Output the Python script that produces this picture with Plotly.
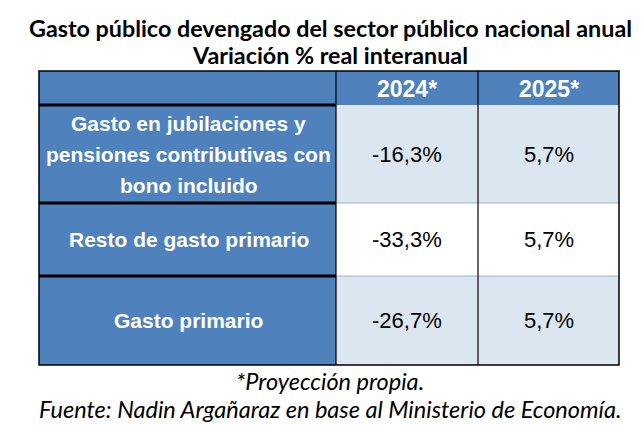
import plotly.graph_objects as go

# datos
titulo = ["Gasto público devengado del sector público nacional anual",
          "Variación % real interanual"]
anios = ["2024*", "2025*"]
rubros = [["Gasto en jubilaciones y", "pensiones contributivas con", "bono incluido"],
          ["Resto de gasto primario"],
          ["Gasto primario"]]
var_2024 = [-16.3, -33.3, -26.7]
var_2025 = [5.7, 5.7, 5.7]
notas = ["*Proyección propia.",
         "Fuente: Nadin Argañaraz en base al Ministerio de Economía."]

# geometria de la tabla (pixeles)
col_x = [31, 328, 470, 611]
row_y = [63, 97, 195, 268, 357]
azul = "#4F81BD"
celeste = "#DCE6F1"
fondos = [celeste, "white", celeste]

def fmt(v):
    return ("%.1f%%" % v).replace(".", ",")

fig = go.Figure()
shapes = []
ann = []

# encabezado
shapes.append(dict(type="rect", x0=col_x[0], x1=col_x[3], y0=row_y[0], y1=row_y[1],
                   fillcolor=azul, line=dict(width=0), layer="below"))
for i, a in enumerate(anios):
    ann.append(dict(x=(col_x[i+1]+col_x[i+2])/2, y=(row_y[0]+row_y[1])/2 + 1, text="<b>%s</b>" % a,
                    font=dict(family="Liberation Sans", size=23, color="white")))

# filas
for r in range(len(rubros)):
    y0, y1 = row_y[r+1], row_y[r+2]
    shapes.append(dict(type="rect", x0=col_x[0], x1=col_x[1], y0=y0, y1=y1,
                       fillcolor=azul, line=dict(width=0), layer="below"))
    shapes.append(dict(type="rect", x0=col_x[1], x1=col_x[3], y0=y0, y1=y1,
                       fillcolor=fondos[r], line=dict(width=0), layer="below"))
    yc = (y0+y1)/2
    n = len(rubros[r])
    for k, linea in enumerate(rubros[r]):
        ann.append(dict(x=(col_x[0]+col_x[1])/2 + 1, y=yc + (k-(n-1)/2)*31,
                        text="<b>%s</b>" % linea,
                        font=dict(family="Liberation Sans", size=21, color="white")))
    for c, serie in enumerate([var_2024, var_2025]):
        ann.append(dict(x=(col_x[c+1]+col_x[c+2])/2, y=yc, text=fmt(serie[r]),
                        font=dict(family="Liberation Sans", size=22, color="black")))

# lineas
for y in row_y[2:-1]:
    shapes.append(dict(type="line", x0=col_x[1], x1=col_x[3], y0=y, y1=y,
                       line=dict(color="#9FB3CC", width=1)))
for y in row_y[1:-1]:
    shapes.append(dict(type="line", x0=col_x[0], x1=col_x[1], y0=y, y1=y,
                       line=dict(color="black", width=3)))
for x in col_x[1:3]:
    shapes.append(dict(type="line", x0=x, x1=x, y0=row_y[0], y1=row_y[-1],
                       line=dict(color="black", width=1.2)))
shapes.append(dict(type="rect", x0=col_x[0], x1=col_x[3], y0=row_y[0], y1=row_y[-1],
                   line=dict(color="black", width=1.5)))

# titulo y notas
for k, t in enumerate(titulo):
    ann.append(dict(x=322, y=20 + k*27, text="<b>%s</b>" % t,
                    font=dict(family="Lato", size=23.3, color="black")))
for k, t in enumerate(notas):
    ann.append(dict(x=322, y=373 + k*28, text="<i>%s</i>" % t,
                    font=dict(family="Lato", size=23.5, color="black")))

for a in ann:
    a.update(xref="x", yref="y", showarrow=False, xanchor="center", yanchor="middle")

fig.update_layout(
    width=644, height=425,
    margin=dict(l=0, r=0, t=0, b=0),
    paper_bgcolor="white", plot_bgcolor="white",
    shapes=shapes, annotations=ann,
    xaxis=dict(range=[0, 644], visible=False, fixedrange=True),
    yaxis=dict(range=[425, 0], visible=False, fixedrange=True),
    showlegend=False,
)
fig.write_html("out.html")
